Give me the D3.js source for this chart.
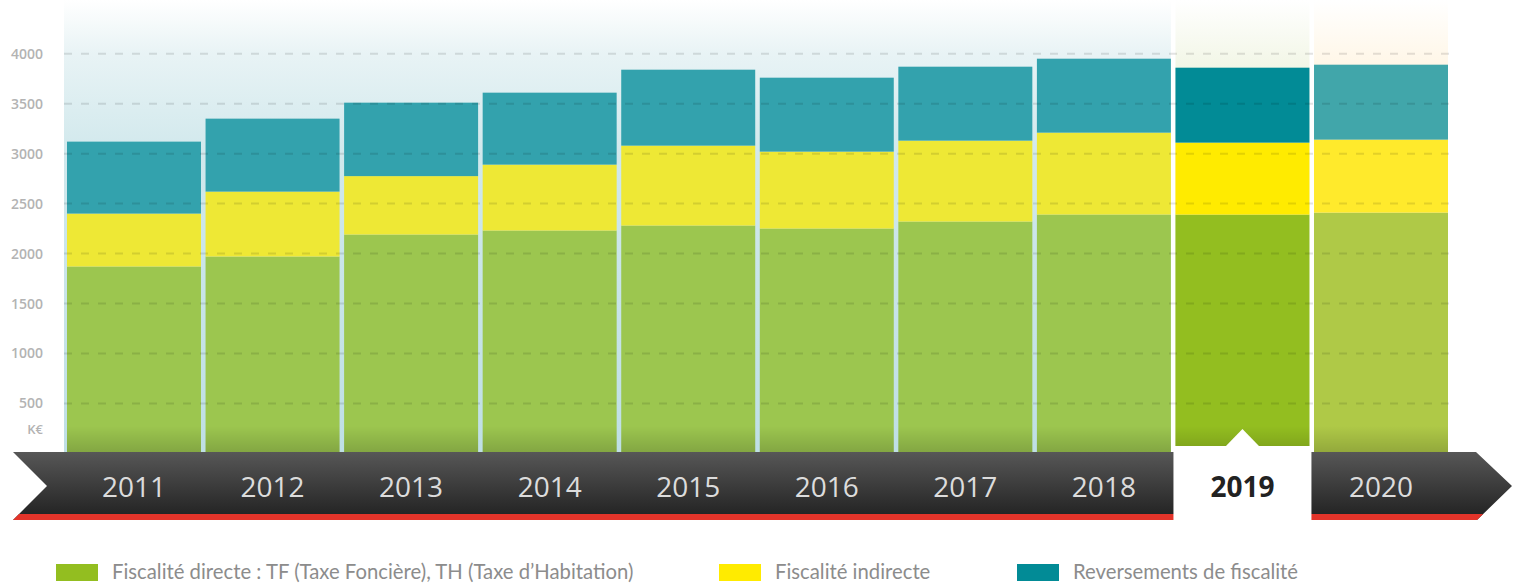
<!DOCTYPE html>
<html>
<head>
<meta charset="utf-8">
<script src="https://cdn.jsdelivr.net/npm/d3@7"></script>
<style>
  body { margin: 0; background: #fff; }
  svg { display: block; }
</style>
</head>
<body>
<div id="chart"></div>
<script>
var WD = 1518, HT = 583

// data (K€)
var years = ['2011','2012','2013','2014','2015','2016','2017','2018','2019','2020'];
var directe = [1870, 1970, 2190, 2230, 2280, 2250, 2320, 2390, 2390, 2410];
var indirecte = [530, 650, 585, 660, 800, 770, 810, 820, 720, 730];
var reversements = [720, 730, 735, 720, 760, 740, 740, 740, 750, 750];
var yTicks = [500, 1000, 1500, 2000, 2500, 3000, 3500, 4000];
var legendLabels = ['Fiscalité directe : TF (Taxe Foncière), TH (Taxe d\u2019Habitation)', 'Fiscalité indirecte', 'Reversements de fiscalité'];
var keys = ['directe','indirecte','reversements'];

var highlight = '2019', last = '2020';
var colors = {
  normal:  { directe: '#9cc64f', indirecte: '#eee835', reversements: '#33a2ad' },
  '2019':  { directe: '#93be20', indirecte: '#ffeb00', reversements: '#028b96' },
  '2020':  { directe: '#afc947', indirecte: '#ffea2c', reversements: '#41a6aa' }
};

var data = years.map(function(y, i){
  return { year: y, directe: directe[i], indirecte: indirecte[i], reversements: reversements[i] };
});

var x = d3.scaleBand().domain(years).range([67, 1448]).paddingInner(0.033);
var y = d3.scaleLinear().domain([0, 4000]).range([453.4, 53.7]);
var baseY = 452;

var svg = d3.select("#chart")
            .append("svg")
                .attr("width", WD)
                .attr("height", HT)

var defs = svg.append("defs");

function vGrad(id, stops){
  var g = defs.append("linearGradient").attr("id", id)
      .attr("x1", 0).attr("y1", 0).attr("x2", 0).attr("y2", 1);
  stops.forEach(function(s){
    g.append("stop").attr("offset", s[0]).attr("stop-color", s[1]).attr("stop-opacity", s[2] == null ? 1 : s[2]);
  });
}
vGrad("bgBlue",  [[0,'#ffffff'],[0.12,'#e8f3f5'],[0.35,'#d0e8ec'],[1,'#bfdfe5']]);
vGrad("bg2019",  [[0,'#ffffff'],[0.15,'#f2f6e6'],[1,'#e6efd2']]);
vGrad("bg2020",  [[0,'#ffffff'],[0.15,'#fff6e6'],[1,'#fdf0d8']]);
vGrad("shade",   [[0,'#000',0],[1,'#000',0.16]]);
vGrad("ribbon",  [[0,'#575757'],[1,'#202020']]);

// backgrounds
var bw = x.bandwidth();
svg.append("rect")
    .attr("x", 64).attr("y", 0)
    .attr("width", x('2018') + bw - 64).attr("height", baseY)
    .attr("fill", "url(#bgBlue)");
svg.append("rect")
    .attr("x", x(highlight)).attr("y", 0).attr("width", bw).attr("height", baseY)
    .attr("fill", "url(#bg2019)");
svg.append("rect")
    .attr("x", x(last)).attr("y", 0).attr("width", bw).attr("height", baseY)
    .attr("fill", "url(#bg2020)");

// stacked bars
var stack = d3.stack().keys(keys);
var series = stack(data);

svg.append("g").selectAll("g")
  .data(series)
  .enter()
  .append("g")
  .selectAll("rect")
  .data(function(s){ return s.map(function(d){ d.key = s.key; return d; }); })
  .enter()
  .append("rect")
      .attr("x", function(d){ return x(d.data.year); })
      .attr("y", function(d){ return y(d[1]); })
      .attr("width", bw)
      .attr("height", function(d){ return Math.min(baseY, y(d[0])) - y(d[1]); })
      .attr("fill", function(d){
        var c = colors[d.data.year] || colors.normal;
        return c[d.key];
      });

// shadow at the foot of each bar
svg.append("g").selectAll("rect")
  .data(years)
  .enter()
  .append("rect")
      .attr("x", function(d){ return x(d); })
      .attr("y", 426)
      .attr("width", bw)
      .attr("height", baseY - 426)
      .attr("fill", "url(#shade)");

// gridlines
svg.append("g").selectAll("line")
  .data(yTicks)
  .enter()
  .append("line")
      .attr("x1", 64).attr("x2", 1452)
      .attr("y1", function(d){ return y(d); })
      .attr("y2", function(d){ return y(d); })
      .attr("stroke", "rgba(0,0,0,0.11)")
      .attr("stroke-width", 2)
      .attr("stroke-dasharray", "8,9");

// y labels
svg.append("g").selectAll("text")
  .data(yTicks)
  .enter()
  .append("text")
      .attr("x", 43)
      .attr("y", function(d){ return y(d) + 5; })
      .attr("text-anchor", "end")
      .style("font-family", "'Open Sans', sans-serif")
      .style("font-weight", 600)
      .style("font-size", "14px")
      .attr("fill", "#b3b3b3")
      .text(function(d){ return d; });
svg.append("text")
    .attr("x", 43).attr("y", 434)
    .attr("text-anchor", "end")
    .style("font-family", "'Open Sans', sans-serif")
    .style("font-weight", 600)
    .style("font-size", "13px")
    .attr("fill", "#b3b3b3")
    .text("K€");

// timeline ribbon
var ribbonPath = "M13,452 L1476,452 L1512,486 L1477,520 L13,520 L47,486 Z";
defs.append("clipPath").attr("id", "ribbonClip")
    .append("path").attr("d", ribbonPath);
svg.append("path")
    .attr("d", ribbonPath)
    .attr("fill", "url(#ribbon)");
svg.append("rect")
    .attr("x", 0).attr("y", 514)
    .attr("width", WD).attr("height", 7)
    .attr("fill", "#e3342a")
    .attr("clip-path", "url(#ribbonClip)");

// highlighted year box
var hx = x(highlight) + bw / 2;
svg.append("rect")
    .attr("x", x(highlight) - 2).attr("y", 446)
    .attr("width", bw + 4).attr("height", 76)
    .attr("fill", "#fff");
svg.append("path")
    .attr("d", "M" + (hx - 17) + ",446.5 L" + hx + ",429 L" + (hx + 17) + ",446.5 Z")
    .attr("fill", "#fff");

// year labels
svg.append("g").selectAll("text")
  .data(years)
  .enter()
  .append("text")
      .attr("x", function(d){ return x(d) + bw / 2; })
      .attr("y", 497)
      .attr("text-anchor", "middle")
      .style("font-family", "'Open Sans', sans-serif")
      .style("font-size", "28px")
      .style("font-weight", function(d){ return d === highlight ? 700 : 400; })
      .attr("fill", function(d){ return d === highlight ? '#222' : '#dcdcdc'; })
      .text(function(d){ return d; });

// legend
var legendX = [56, 719, 1017];
var legend = svg.append("g").selectAll("g")
  .data(keys)
  .enter()
  .append("g")
      .attr("transform", function(d, i){ return "translate(" + legendX[i] + ",564)"; });
legend.append("rect")
    .attr("width", 42).attr("height", 17)
    .attr("fill", function(d){ return colors['2019'][d]; });
legend.append("text")
    .attr("x", 56).attr("y", 15)
    .style("font-family", "Lato, sans-serif")
    .style("font-size", "20.3px")
    .attr("fill", "#8c8c8c")
    .text(function(d, i){ return legendLabels[i]; });
</script>
</body>
</html>
